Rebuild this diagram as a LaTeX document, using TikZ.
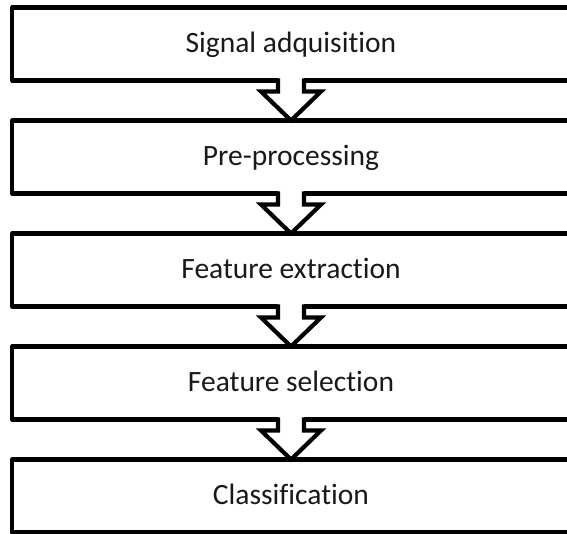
\documentclass[tikz,border=0pt]{standalone}
\usepackage{fontspec}
\setmainfont{Carlito}[Ligatures={NoCommon,NoContextual}]
\usetikzlibrary{calc}
\begin{document}
\begin{tikzpicture}[x=1pt,y=-1pt,
  stage/.style={draw=black, line width=4.2pt, line join=round, fill=white, rectangle,
    minimum width=558pt, minimum height=73pt, inner sep=0pt, outer sep=0pt,
    text height=21pt, text depth=5pt, font=\fontsize{29.5}{35}\selectfont, text=black!90},
  flowline/.style={line width=4.2pt, line join=miter}]
\clip (0,0) rectangle (567,533);
\fill[white] (0,0) rectangle (567,533);
\node[stage] (s1) at (291,44) {Signal adquisition};
\node[stage] (s2) at (291,157) {Pre-processing};
\node[stage] (s3) at (291,270) {Feature extraction};
\node[stage] (s4) at (291,383) {Feature selection};
\node[stage] (s5) at (291,496) {Classification};
\foreach \a/\b in {s1/s2, s2/s3, s3/s4, s4/s5} {
  \fill[white] ($(\a.south)+(-13,-4)$) -- ($(\a.south)+(-13,11)$) -- ($(\a.south)+(-30,11)$)
    -- (\b.north) -- ($(\a.south)+(30,11)$) -- ($(\a.south)+(13,11)$)
    -- ($(\a.south)+(13,-4)$) -- cycle;
  \draw[flowline] ($(\a.south)+(-21,0)$) -- ($(\a.south)+(-13,0)$) -- ($(\a.south)+(-13,11)$)
    -- ($(\a.south)+(-30,11)$) -- (\b.north) -- ($(\a.south)+(30,11)$)
    -- ($(\a.south)+(13,11)$) -- ($(\a.south)+(13,0)$) -- ($(\a.south)+(21,0)$);
}
\end{tikzpicture}
\end{document}
